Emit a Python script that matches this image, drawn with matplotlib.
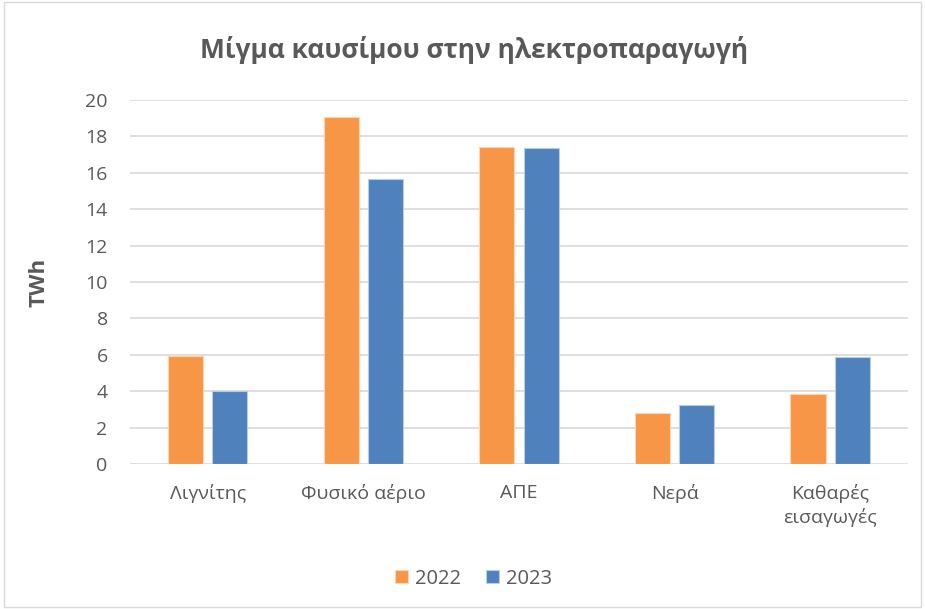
import numpy as np
import matplotlib.pyplot as plt
from matplotlib.patches import Rectangle

plt.rcParams['font.family'] = ['Open Sans', 'DejaVu Sans']

categories = ['Λιγνίτης', 'Φυσικό αέριο', 'ΑΠΕ', 'Νερά', 'Καθαρές\nεισαγωγές']
years = ['2022', '2023']
values_2022 = [5.95, 19.08, 17.43, 2.79, 3.85]
values_2023 = [4.02, 15.65, 17.37, 3.25, 5.90]
yticks = [0, 2, 4, 6, 8, 10, 12, 14, 16, 18, 20]

orange = '#F79646'
blue = '#4F81BD'
text_col = '#595959'

fig = plt.figure(figsize=(9.25, 6.09), dpi=100)
ax = fig.add_axes([0.1405, 0.238, 0.841, 0.598])

x = np.arange(len(categories))
w = 0.225
off = 0.142
ax.bar(x - off, values_2022, w, color=orange, edgecolor='#FBD5B5', linewidth=0.8, label=years[0], zorder=3)
ax.bar(x + off, values_2023, w, color=blue, edgecolor='#B9CDE5', linewidth=0.8, label=years[1], zorder=3)

ax.set_xlim(-0.5, len(categories) - 0.5)
ax.set_ylim(0, 20)
ax.set_yticks(yticks)
ax.set_xticks(x)
ax.set_xticklabels(categories, fontsize=14, color=text_col, linespacing=1.35)
ax.tick_params(axis='y', labelsize=14, labelcolor=text_col, length=0, pad=16)
ax.tick_params(axis='x', length=0, pad=14)
ax.grid(axis='y', color='#D9D9D9', linewidth=1.2, zorder=0)
for s in ax.spines.values():
    s.set_visible(False)

ax.set_ylabel('TWh', fontsize=16, fontweight='bold', color=text_col, labelpad=26)
fig.text(0.512, 0.918, 'Μίγμα καυσίμου στην ηλεκτροπαραγωγή', ha='center', va='center',
         fontsize=19, fontweight='bold', color=text_col)

leg = fig.legend(loc='center', bbox_to_anchor=(0.512, 0.05), ncol=2, frameon=False,
                 fontsize=14.5, handlelength=0.65, handleheight=0.65, columnspacing=1.2,
                 handletextpad=0.35)
for t in leg.get_texts():
    t.set_color(text_col)

fig.patches.append(Rectangle((0.004, 0.004), 0.992, 0.992, transform=fig.transFigure,
                             fill=False, edgecolor='#D9D9D9', linewidth=1))

fig.savefig('out.png', dpi=100)
